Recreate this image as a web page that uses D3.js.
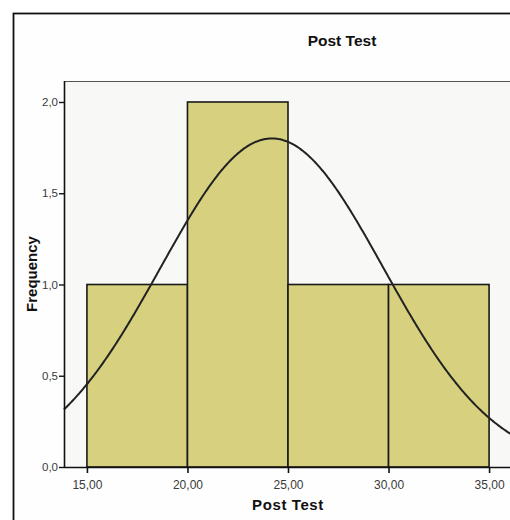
<!DOCTYPE html>
<html>
<head>
<meta charset="utf-8">
<script src="https://cdn.jsdelivr.net/npm/d3@7"></script>
<style>
  html, body { margin: 0; padding: 0; background: #ffffff; }
  svg { display: block; }
  text { font-family: "Liberation Sans", Arial, sans-serif; }
</style>
</head>
<body>
<svg id="chart" width="510" height="520"></svg>
<script>
// Histogram bins of the Post Test scores (lower edge, upper edge, count)
const binStarts = [15, 20, 25, 30];
const binEnds   = [20, 25, 30, 35];
const counts    = [1, 2, 1, 1];

// Fitted normal curve parameters
const curveMean = 24.2;
const curveSD   = 5.54;
const curveN    = 5;

// Axis ticks
const xTicks = [15, 20, 25, 30, 35];
const yTicks = [0, 0.5, 1.0, 1.5, 2.0];
const xTickLabels = ["15,00", "20,00", "25,00", "30,00", "35,00"];
const yTickLabels = ["0,0", "0,5", "1,0", "1,5", "2,0"];

const chartTitle = "Post Test";
const xTitle = "Post Test";
const yTitle = "Frequency";

const svg = d3.select("#chart");

const plot = { left: 64, top: 81, right: 512, bottom: 467 };

const x = d3.scaleLinear().domain([13.86, 36.14]).range([plot.left, plot.right]);
const y = d3.scaleLinear().domain([0, 2.115]).range([plot.bottom, plot.top]);

// Outer frame
svg.append("rect").attr("x", 0).attr("y", 0).attr("width", 510).attr("height", 520).attr("fill", "#ffffff");
svg.append("rect")
  .attr("x", 13.5).attr("y", 13.5).attr("width", 660).attr("height", 560)
  .attr("fill", "#fefefe").attr("stroke", "#111").attr("stroke-width", 1.8);

// Plot area background
svg.append("rect")
  .attr("x", plot.left).attr("y", plot.top)
  .attr("width", plot.right - plot.left).attr("height", plot.bottom - plot.top)
  .attr("fill", "#f8f8f7");
svg.append("line")
  .attr("x1", plot.left).attr("x2", plot.right + 10)
  .attr("y1", plot.top + 0.5).attr("y2", plot.top + 0.5)
  .attr("stroke", "#555").attr("stroke-width", 1.2);

// Bars
const bins = binStarts.map((s, i) => ({ x0: s, x1: binEnds[i], n: counts[i] }));
svg.append("g").selectAll("rect").data(bins).join("rect")
  .attr("x", d => x(d.x0))
  .attr("y", d => y(d.n))
  .attr("width", d => x(d.x1) - x(d.x0))
  .attr("height", d => y(0) - y(d.n))
  .attr("fill", "#d6d07f")
  .attr("stroke", "#1a1a1a")
  .attr("stroke-width", 1.6);

// Normal curve scaled to counts per bin
const binWidth = binEnds[0] - binStarts[0];
const density = v => curveN * binWidth * Math.exp(-0.5 * ((v - curveMean) / curveSD) ** 2) / (curveSD * Math.sqrt(2 * Math.PI));
const curveXs = d3.range(x.domain()[0], x.domain()[1] + 0.01, 0.05);
svg.append("path")
  .datum(curveXs)
  .attr("fill", "none")
  .attr("stroke", "#222")
  .attr("stroke-width", 2)
  .attr("d", d3.line().x(v => x(v)).y(v => y(density(v))).curve(d3.curveBasis));

// Axes
const xAxis = d3.axisBottom(x).tickValues(xTicks).tickSize(6).tickSizeOuter(0)
  .tickFormat((d, i) => xTickLabels[i]);
const yAxis = d3.axisLeft(y).tickValues(yTicks).tickSize(5).tickSizeOuter(0)
  .tickFormat((d, i) => yTickLabels[i]);

const gx = svg.append("g").attr("transform", `translate(0,${plot.bottom})`).call(xAxis);
gx.select(".domain").attr("d", `M${plot.left},0.5H${plot.right}`).attr("stroke", "#111").attr("stroke-width", 1.6);
gx.selectAll(".tick line").attr("stroke", "#111").attr("stroke-width", 1.6);
gx.selectAll(".tick text").attr("font-size", 12).attr("fill", "#3a3a3a").attr("dy", "1.1em");

const gy = svg.append("g").attr("transform", `translate(${plot.left},0)`).call(yAxis);
gy.select(".domain").attr("d", `M0.5,${plot.top}V${plot.bottom}`).attr("stroke", "#111").attr("stroke-width", 1.6);
gy.selectAll(".tick line").attr("stroke", "#111").attr("stroke-width", 1.4);
gy.selectAll(".tick text").attr("font-size", 11.5).attr("fill", "#3a3a3a").attr("x", -6);

// Titles
svg.append("text")
  .attr("x", 342).attr("y", 46)
  .attr("text-anchor", "middle")
  .attr("font-size", 15.5).attr("font-weight", "bold").attr("fill", "#111")
  .text(chartTitle);

svg.append("text")
  .attr("x", x(25)).attr("y", 510)
  .attr("text-anchor", "middle")
  .attr("font-size", 15).attr("font-weight", "bold").attr("fill", "#111")
  .attr("letter-spacing", 0.6)
  .text(xTitle);

svg.append("text")
  .attr("transform", `translate(37,${(plot.top + plot.bottom) / 2}) rotate(-90)`)
  .attr("text-anchor", "middle")
  .attr("font-size", 15).attr("font-weight", "bold").attr("fill", "#111")
  .text(yTitle);
</script>
</body>
</html>
